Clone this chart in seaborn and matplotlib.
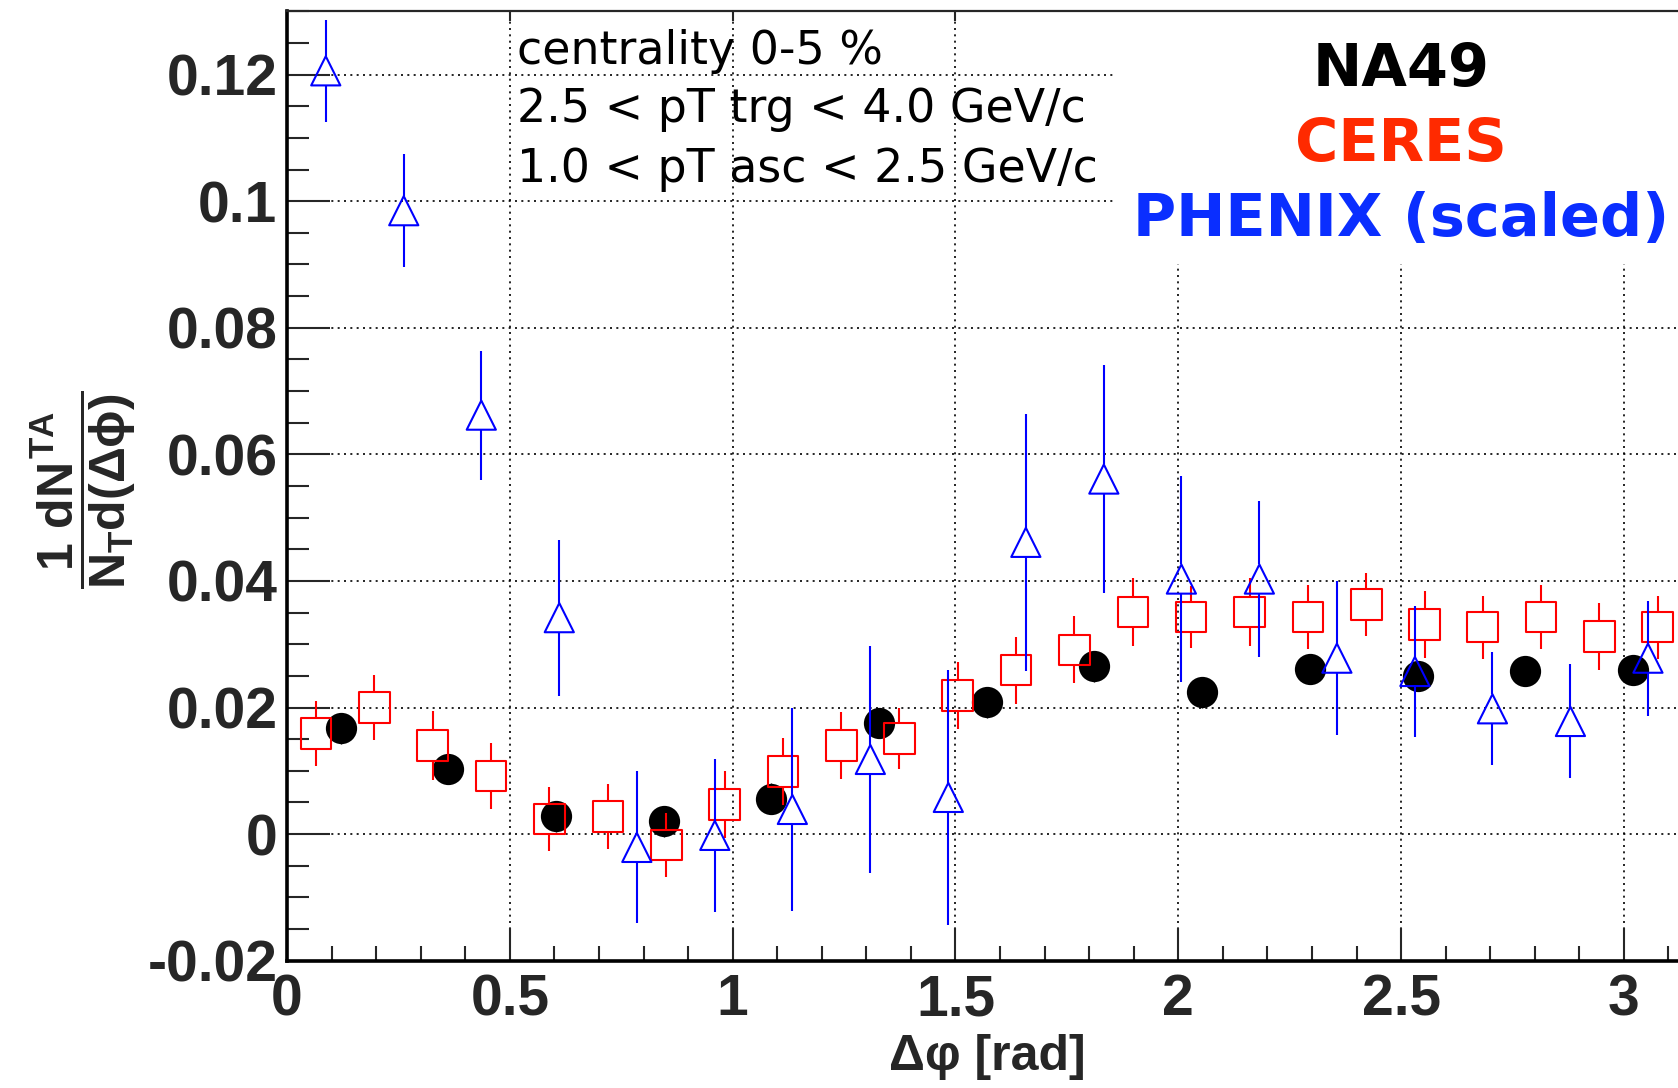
import numpy as np
import pandas as pd
import matplotlib
matplotlib.use("Agg")
import matplotlib.pyplot as plt
import seaborn as sns
from matplotlib.patches import Rectangle

# ---------------- data ----------------
na49_x = [0.121, 0.362, 0.604, 0.846, 1.087, 1.329, 1.571, 1.812, 2.054, 2.296, 2.537, 2.779, 3.021]
na49_y = [0.0167, 0.0103, 0.0028, 0.0020, 0.0056, 0.0176, 0.0208, 0.0265, 0.0224, 0.0261, 0.0250, 0.0258, 0.0259]
na49_err = [0.0024, 0.0024, 0.0024, 0.0024, 0.0024, 0.0024, 0.0024, 0.0024, 0.0024, 0.0024, 0.0024, 0.0024, 0.0024]

ceres_x = [0.065, 0.196, 0.327, 0.458, 0.589, 0.720, 0.851, 0.982, 1.113, 1.244, 1.374, 1.505,
           1.636, 1.767, 1.898, 2.029, 2.160, 2.291, 2.422, 2.553, 2.683, 2.814, 2.945, 3.076]
ceres_y = [0.0159, 0.0200, 0.0140, 0.0092, 0.0024, 0.0028, -0.0017, 0.0047, 0.0099, 0.0140, 0.0151, 0.0219,
           0.0259, 0.0291, 0.0351, 0.0343, 0.0351, 0.0343, 0.0363, 0.0331, 0.0327, 0.0343, 0.0312, 0.0327]
ceres_err = [0.0051, 0.0052, 0.0054, 0.0052, 0.0051, 0.0051, 0.0051, 0.0053, 0.0053, 0.0053, 0.0048, 0.0053,
             0.0053, 0.0053, 0.0053, 0.0049, 0.0053, 0.0050, 0.0050, 0.0053, 0.0050, 0.0050, 0.0053, 0.0050]

phenix_x = [0.087, 0.262, 0.436, 0.611, 0.785, 0.960, 1.134, 1.309, 1.484, 1.658, 1.833, 2.007,
            2.182, 2.356, 2.531, 2.705, 2.880, 3.054]
phenix_y = [0.1206, 0.0985, 0.0662, 0.0342, -0.0021, -0.0002, 0.0039, 0.0118, 0.0058, 0.0461, 0.0561, 0.0403,
            0.0403, 0.0278, 0.0257, 0.0198, 0.0178, 0.0278]
phenix_err = [0.0081, 0.0089, 0.0102, 0.0123, 0.0120, 0.0121, 0.0160, 0.0180, 0.0201, 0.0203, 0.0180, 0.0163,
              0.0123, 0.0122, 0.0103, 0.0089, 0.0090, 0.0091]

x_ticks = [0, 0.5, 1, 1.5, 2, 2.5, 3]
x_tick_labels = ["0", "0.5", "1", "1.5", "2", "2.5", "3"]
y_ticks = [-0.02, 0, 0.02, 0.04, 0.06, 0.08, 0.10, 0.12]
y_tick_labels = ["-0.02", "0", "0.02", "0.04", "0.06", "0.08", "0.1", "0.12"]

info_lines = ["centrality 0-5 %", "2.5 < pT trg < 4.0 GeV/c", "1.0 < pT asc < 2.5 GeV/c"]
exp_labels = ["NA49", "CERES", "PHENIX (scaled)"]
exp_colors = ["#000000", "#FF2A00", "#0A2EFF"]

# ---------------- style ----------------
sns.set_style("white")
plt.rcParams["font.family"] = ["Liberation Sans", "DejaVu Sans"]
plt.rcParams["mathtext.fontset"] = "custom"
plt.rcParams["mathtext.rm"] = "Liberation Sans:bold"
plt.rcParams["mathtext.bf"] = "Liberation Sans:bold"
plt.rcParams["mathtext.it"] = "Liberation Sans:bold"

W, H = 1678, 1088
DPI = 100
fig = plt.figure(figsize=(W / DPI, H / DPI), dpi=DPI)
fig.patch.set_facecolor("white")

ax_left, ax_right, ax_top, ax_bottom = 287, 1687, 10.7, 960.7
ax = fig.add_axes([ax_left / W, 1 - ax_bottom / H, (ax_right - ax_left) / W, (ax_bottom - ax_top) / H])
ax.set_facecolor("white")

ymin, ymax = -0.02, 0.1301
ax.set_xlim(0, np.pi)
ax.set_ylim(ymin, ymax)

# marker sizes in points
ms_circ, ms_sq, ms_tri = 22.5, 22.0, 21.0
lw = 1.5

# data->pixel scale, used to stop error bars at marker edges (ROOT style)
px_per_unit = (ax_bottom - ax_top) / (ymax - ymin)
def gap(ms_pt):
    return (ms_pt / 2.0) * DPI / 72.0 / px_per_unit

df_na = pd.DataFrame({"x": na49_x, "y": na49_y, "e": na49_err})
df_ce = pd.DataFrame({"x": ceres_x, "y": ceres_y, "e": ceres_err})
df_ph = pd.DataFrame({"x": phenix_x, "y": phenix_y, "e": phenix_err})

# NA49 (filled black circles)
ax.vlines(df_na.x, df_na.y - df_na.e, df_na.y + df_na.e, color="black", lw=1.0, zorder=3)
sns.scatterplot(data=df_na, x="x", y="y", ax=ax, marker="o", s=ms_circ ** 2,
                color="black", edgecolor="black", linewidth=0, zorder=4, legend=False)

# CERES (open red squares)
g = gap(ms_sq)
ax.vlines(df_ce.x, df_ce.y + g, df_ce.y + df_ce.e, color="red", lw=lw, zorder=5)
ax.vlines(df_ce.x, df_ce.y - df_ce.e, df_ce.y - g, color="red", lw=lw, zorder=5)
sns.scatterplot(data=df_ce, x="x", y="y", ax=ax, marker="s", s=ms_sq ** 2,
                facecolor="none", edgecolor="red", linewidth=lw, zorder=5, legend=False)

# PHENIX (open blue triangles)
g = gap(ms_tri)
ax.vlines(df_ph.x, df_ph.y + g, df_ph.y + df_ph.e, color="blue", lw=lw, zorder=6)
ax.vlines(df_ph.x, df_ph.y - df_ph.e, df_ph.y - g, color="blue", lw=lw, zorder=6)
sns.scatterplot(data=df_ph, x="x", y="y", ax=ax, marker="^", s=ms_tri ** 2,
                facecolor="none", edgecolor="blue", linewidth=lw, zorder=6, legend=False)

# ---------------- axes, ticks, grid ----------------
ax.set_xlabel("")
ax.set_ylabel("")
ax.set_xticks(x_ticks)
ax.set_xticklabels(x_tick_labels)
ax.set_yticks(y_ticks)
ax.set_yticklabels(y_tick_labels)
ax.xaxis.set_minor_locator(matplotlib.ticker.MultipleLocator(0.1))
ax.yaxis.set_minor_locator(matplotlib.ticker.MultipleLocator(0.005))

for lab in ax.get_xticklabels() + ax.get_yticklabels():
    lab.set_fontsize(41)
    lab.set_fontweight("bold")

ax.tick_params(axis="y", which="major", direction="in", length=31, width=1.5, pad=7, left=True, right=False)
ax.tick_params(axis="y", which="minor", direction="in", length=16, width=1.5, left=True, right=False)
ax.tick_params(axis="x", which="major", direction="in", length=24, width=1.5, pad=9, bottom=True, top=True)
ax.tick_params(axis="x", which="minor", direction="in", length=11, width=1.5, bottom=True, top=False)
for t in ax.xaxis.get_major_ticks():
    t.tick2line.set_markersize(7)

ax.grid(True, which="major", color="black", linestyle=(0, (1.2, 2.6)), linewidth=1.2)
ax.set_axisbelow(True)

for side in ["left", "bottom"]:
    ax.spines[side].set_linewidth(2.6)
    ax.spines[side].set_color("black")
ax.spines["top"].set_linewidth(1.6)
ax.spines["right"].set_visible(False)

# white box behind the experiment labels (hides grid there)
ax.add_patch(Rectangle((0.590, 0.733), 0.42, 0.30, transform=ax.transAxes,
                       facecolor="white", edgecolor="none", zorder=1))

# ---------------- texts ----------------
info_y = [51, 110, 169]
for txt, yy in zip(info_lines, info_y):
    fig.text(517 / W, 1 - yy / H, txt, fontsize=33, family="DejaVu Sans",
             ha="left", va="center", color="black", zorder=10)

exp_base = [86, 160.5, 236]
for txt, col, yy in zip(exp_labels, exp_colors, exp_base):
    fig.text(1401 / W, 1 - yy / H, txt, fontsize=42.5, family="DejaVu Sans", fontweight="bold",
             ha="center", va="baseline", color=col, zorder=10)

fig.text(987 / W, 1 - 1057 / H, "\u0394\u03c6 [rad]", fontsize=36, fontweight="bold",
         family=["Liberation Sans", "DejaVu Sans"], ha="center", va="center")

fig.text(83 / W, 1 - 490 / H, r"$\dfrac{1\ dN^{TA}}{N_{T}d(\Delta\phi)}$", fontsize=36,
         rotation=90, ha="center", va="center")

fig.savefig("out.png", dpi=DPI, facecolor="white")
